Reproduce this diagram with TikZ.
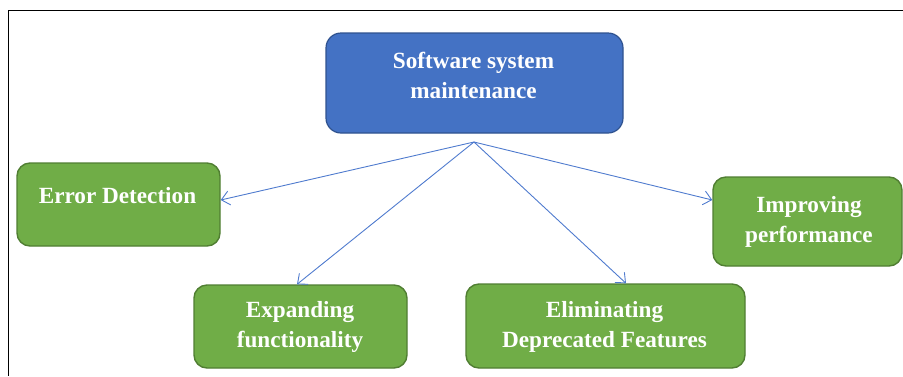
\documentclass[tikz,border=0pt]{standalone}
\usepackage{fontspec}
\setmainfont{Liberation Serif}
\usetikzlibrary{arrows.meta}
\definecolor{mainblue}{HTML}{4472C4}
\definecolor{mainblueborder}{HTML}{2F528F}
\definecolor{boxgreen}{HTML}{70AD47}
\definecolor{boxgreenborder}{HTML}{507E32}
\definecolor{arrowblue}{HTML}{4F7BCE}
\tikzset{
  mainbox/.style={draw=mainblueborder, fill=mainblue, line width=1.2pt, rounded corners=15pt, inner sep=0pt},
  greenbox/.style={draw=boxgreenborder, fill=boxgreen, line width=1.4pt, rounded corners=13pt, inner sep=0pt},
  lbl/.style={anchor=base, align=center, text=white, inner sep=0pt, font=\bfseries\fontsize{23.2}{30}\selectfont},
  conn/.style={draw=arrowblue, line width=0.9pt, -{Straight Barb[length=8pt,width=14pt]}},
  frameline/.style={draw=black, line width=1pt}
}
\begin{document}
\begin{tikzpicture}[x=1pt,y=-1pt]
\useasboundingbox (0,0) rectangle (903,376);
\coordinate (ftl) at (8,10);
\coordinate (ftr) at (903,10);
\coordinate (fbl) at (8,376);
\draw[frameline] (ftr) -- (ftl) -- (fbl);

\node[mainbox, minimum width=297pt, minimum height=100pt] (main) at (474.5,83) {};
\node[greenbox, minimum width=203pt, minimum height=83pt] (err) at (118.5,204.5) {};
\node[greenbox, minimum width=213pt, minimum height=83pt] (exp) at (300.5,326.5) {};
\node[greenbox, minimum width=279pt, minimum height=84pt] (elim) at (605.5,326) {};
\node[greenbox, minimum width=189pt, minimum height=89pt] (imp) at (807.5,221.5) {};

\node[lbl] (tmain) at (473.5,98) {Software system\\maintenance};
\node[lbl] (terr) at (117.5,203) {Error Detection};
\node[lbl] (texp) at (300,347) {Expanding\\functionality};
\node[lbl] (telim) at (604.5,347) {Eliminating\\Deprecated Features};
\node[lbl] (timp) at (809,242) {Improving\\performance};

\coordinate (hub) at (474,142);
\draw[conn] (hub) -- ([yshift=4.5pt]err.east);
\draw[conn] (hub) -- ([xshift=-3.5pt]exp.north);
\draw[conn] (hub) -- ([xshift=20.5pt]elim.north);
\draw[conn] (hub) -- ([yshift=21.5pt]imp.west);
\end{tikzpicture}
\end{document}
